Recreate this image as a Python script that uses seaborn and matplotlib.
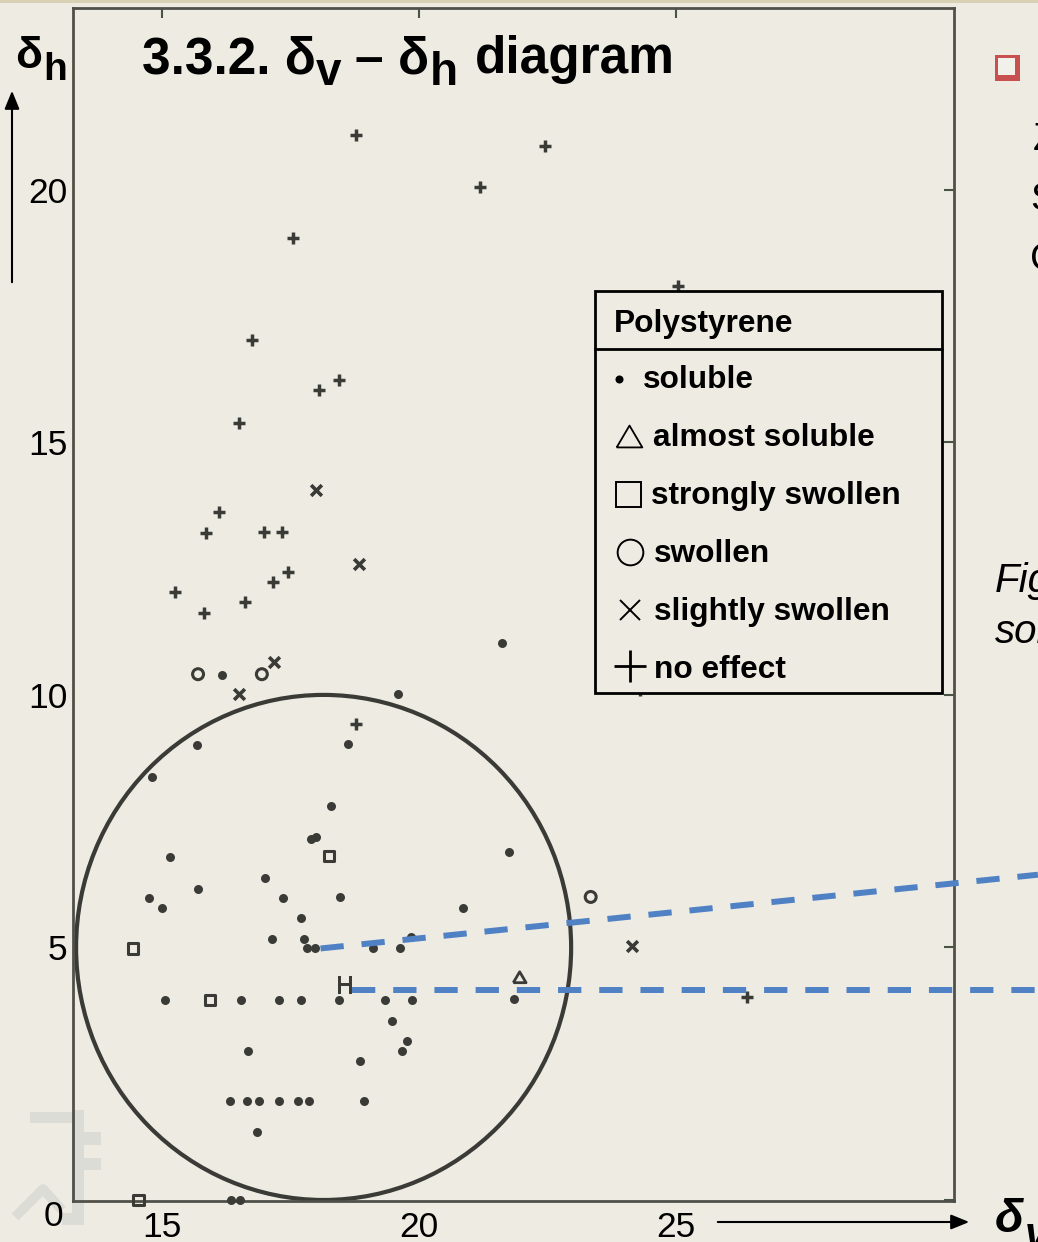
import matplotlib
matplotlib.use("Agg")
import matplotlib.pyplot as plt
import seaborn as sns
import pandas as pd
from matplotlib.patches import Ellipse, Rectangle, FancyArrowPatch
from matplotlib.lines import Line2D
from matplotlib.transforms import ScaledTranslation

# points (delta_v, delta_h)
soluble_dv = [16.17, 21.61, 19.60, 15.69, 18.63, 14.81, 18.30, 17.90, 18.01, 15.17,
              21.75, 17.02, 15.71, 14.76, 17.36, 18.46, 15.01, 20.85, 17.72, 17.15,
              17.77, 19.84, 17.82, 17.98, 19.11, 19.63, 15.06, 16.54, 17.29, 17.72,
              18.45, 19.34, 19.86, 21.85, 19.47, 19.77, 19.68, 16.68, 18.86, 16.33,
              16.67, 16.89, 17.29, 17.65, 17.86, 18.93, 16.85, 16.35, 16.52]
soluble_dh = [10.40, 11.02, 10.01, 9.00, 9.02, 8.38, 7.80, 7.15, 7.19, 6.80,
              6.88, 6.38, 6.16, 5.97, 5.97, 5.99, 5.78, 5.78, 5.58, 5.17,
              5.17, 5.20, 4.98, 4.98, 4.98, 4.98, 3.95, 3.95, 3.96, 3.95,
              3.96, 3.96, 3.95, 3.98, 3.55, 3.15, 2.94, 2.94, 2.76, 1.95,
              1.95, 1.95, 1.95, 1.95, 1.95, 1.96, 1.35, 0.0, 0.0]
almost_dv = [21.96]
almost_dh = [4.41]
strongly_dv = [18.26, 14.45, 15.94, 14.55]
strongly_dh = [6.81, 4.98, 3.96, 0.0]
swollen_dv = [15.71, 16.95, 23.34]
swollen_dh = [10.41, 10.41, 6.00]
slightly_dv = [18.01, 18.84, 17.19, 16.50, 24.15]
slightly_dh = [14.05, 12.59, 10.65, 10.01, 5.02]
noeffect_dv = [18.78, 22.45, 21.19, 17.55, 25.04, 16.75, 18.06, 18.45, 16.50, 16.12,
               15.86, 17.00, 17.35, 17.46, 17.16, 15.26, 16.62, 15.82, 18.78, 24.29, 26.37]
noeffect_dh = [21.09, 20.87, 20.06, 19.05, 18.10, 17.02, 16.04, 16.24, 15.39, 13.63,
               13.20, 13.22, 13.22, 12.44, 12.23, 12.03, 11.83, 11.62, 9.43, 10.10, 4.01]
marked_dv = [18.57]
marked_dh = [4.26]

# solubility circle and the two dashed guide lines
circle_center = (18.15, 5.0)
circle_w, circle_h = 9.62, 10.0
guide1_dv, guide1_dh = [18.09, 32.03], [4.98, 6.44]
guide2_dv, guide2_dh = [18.71, 32.03], [4.15, 4.15]

x_ticks = [15, 20, 25]
y_ticks = [0, 5, 10, 15, 20]

legend_title = "Polystyrene"
legend_labels = ["soluble", "almost soluble", "strongly swollen", "swollen",
                 "slightly swollen", "no effect"]

W, H = 1038, 1242
bg = '#EEECE2'
ink = '#3a3a36'
blue = '#4F81C4'

sns.set_style("white")
plt.rcParams['font.family'] = ['Liberation Sans', 'DejaVu Sans']
plt.rcParams['text.color'] = 'black'
plt.rcParams['mathtext.fontset'] = 'custom'
plt.rcParams['mathtext.rm'] = 'Liberation Sans'
plt.rcParams['mathtext.bf'] = 'Liberation Sans:bold'


def fx(px):
    return px / W


def fy(py):
    return 1 - py / H


def rect_px(x0, y0, x1, y1, **kw):
    return Rectangle((fx(x0), fy(y1)), (x1 - x0) / W, (y1 - y0) / H,
                     transform=fig.transFigure, **kw)


groups = [
    ('soluble', soluble_dv, soluble_dh),
    ('almost soluble', almost_dv, almost_dh),
    ('strongly swollen', strongly_dv, strongly_dh),
    ('swollen', swollen_dv, swollen_dh),
    ('slightly swollen', slightly_dv, slightly_dh),
    ('no effect', noeffect_dv, noeffect_dh),
    ('marked', marked_dv, marked_dh),
]
df = pd.concat([pd.DataFrame({'dv': xs, 'dh': ys, 'effect': name}) for name, xs, ys in groups],
               ignore_index=True)

tri = [(-1, -0.85), (1, -0.85), (0, 0.85), (-1, -0.85)]
styles = {
    'soluble': dict(marker='o', s=42, color=ink, edgecolor=ink, linewidth=0),
    'almost soluble': dict(marker=tri, s=85, facecolor='none', edgecolor=ink, linewidth=2),
    'strongly swollen': dict(marker='s', s=55, facecolor='none', edgecolor=ink, linewidth=2.2),
    'swollen': dict(marker='o', s=62, facecolor='none', edgecolor=ink, linewidth=2.2),
    'slightly swollen': dict(marker='x', s=60, color=ink, linewidth=2.6),
    'no effect': dict(marker='+', s=85, color=ink, linewidth=2.5),
    'marked': dict(marker=r'$\mathbf{H}$', s=150, color=ink, edgecolor=ink, linewidth=0),
}

fig = plt.figure(figsize=(W / 100, H / 100), dpi=100)
fig.patch.set_facecolor(bg)
ax = fig.add_axes([fx(73), fy(1201), (954 - 73) / W, (1201 - 8) / H])
ax.set_facecolor('none')

for name, g in df.groupby('effect', sort=False):
    sns.scatterplot(data=g, x='dv', y='dh', ax=ax, legend=False, clip_on=False,
                    zorder=3, **styles[name])

ax.add_patch(Ellipse(circle_center, circle_w, circle_h, fill=False, lw=3, ec=ink, zorder=2))

for gx, gy in [(guide1_dv, guide1_dh), (guide2_dv, guide2_dh)]:
    ax.plot(gx, gy, color=blue, lw=4.3, dashes=(3.9, 3.0), clip_on=False,
            solid_capstyle='butt', dash_capstyle='butt', zorder=4)

ax.set_xlim(13.28, 30.40)
ax.set_ylim(-0.02, 23.6)
ax.set_xticks(x_ticks)
ax.set_yticks(y_ticks)
ax.set_xlabel('')
ax.set_ylabel('')
for sp in ax.spines.values():
    sp.set_color('#50504a')
    sp.set_linewidth(2)
ax.tick_params(direction='in', length=7, width=1.5, color='#4a5444',
               top=True, right=True, labelcolor='black', labelsize=25.5)
ax.tick_params(axis='x', pad=7)
ax.tick_params(axis='y', pad=4)
zero = ax.get_yticklabels()[0]
zero.set_transform(zero.get_transform() + ScaledTranslation(-0.04, -0.13, fig.dpi_scale_trans))

# legend box drawn as in the slide
fig.add_artist(rect_px(595, 291, 942, 693, fc=bg, ec='black', lw=2, zorder=5))
fig.add_artist(Line2D([fx(595), fx(942)], [fy(349), fy(349)], color='black', lw=2,
                      transform=fig.transFigure, zorder=6))
fig.text(fx(614), fy(331.5), legend_title, fontsize=22.8, weight='bold', va='baseline', zorder=6)
baselines = [388, 446.5, 504, 562, 620, 677.5]
text_x = [643, 653, 651, 654, 654, 654]
sym_y = [379, 435.5, 494, 552, 609.5, 666.3]
sym_style = [
    dict(marker='o', ms=5.8, mfc='black', mec='black', mew=0),
    dict(marker=tri, ms=18.5, mfc='none', mec='black', mew=1.3),
    dict(marker='s', ms=18, mfc='none', mec='black', mew=1.4),
    dict(marker='o', ms=18.5, mfc='none', mec='black', mew=1.4),
    dict(marker='x', ms=15, mec='black', mew=1.4),
    dict(marker='+', ms=23, mec='black', mew=2),
]
sym_x = [619, 628.5, 628, 629.5, 629.5, 629.5]
for lab, bx, by, sx, sy, st in zip(legend_labels, text_x, baselines, sym_x, sym_y, sym_style):
    fig.text(fx(bx), fy(by), lab, fontsize=22.8, weight='bold', va='baseline', zorder=6)
    fig.add_artist(Line2D([fx(sx)], [fy(sy)], transform=fig.transFigure, ls='none',
                          zorder=6, **st))

# titles / labels with near full-size subscripts
renderer = fig.canvas.get_renderer()


def run_text(x_px, base_px, pieces, **kw):
    x = x_px
    for s, size, drop, gap in pieces:
        x += gap
        t = fig.text(x / W, fy(base_px + drop), s, fontsize=size, va='baseline', ha='left', **kw)
        x = t.get_window_extent(renderer).x1


run_text(142, 73, [("3.3.2. δ", 37, 0, 0), ("v", 33, 12, 0), ("–", 37, 0, 13),
                   ("δ", 37, 0, 15), ("h", 33, 12, 1), ("diagram", 37, 0, 17)], weight='bold')
run_text(15, 68, [("δ", 32, 0, 0), ("h", 28, 12, 1)], weight='bold')
run_text(995, 1232, [("δ", 34, 0, 0), ("v", 30, 15, 1)], weight='bold', style='italic')

fig.add_artist(FancyArrowPatch((fx(12), fy(285)), (fx(12), fy(88)), transform=fig.transFigure,
                               arrowstyle='-|>,head_length=1.1,head_width=0.45',
                               mutation_scale=10, color='black', lw=1.5))
fig.add_artist(FancyArrowPatch((fx(715), fy(1222)), (fx(972), fy(1222)), transform=fig.transFigure,
                               arrowstyle='-|>,head_length=1.1,head_width=0.45',
                               mutation_scale=10, color='black', lw=1.5))

# cut-off slide text on the right
fig.add_artist(rect_px(995, 55, 1020, 81, fc='#C8504F', ec='none'))
fig.add_artist(rect_px(998, 58, 1015, 75, fc='#F2F0EA', ec='none'))
fig.text(fx(1033), fy(150), "Z", fontsize=28, va='baseline')
fig.text(fx(1030), fy(210), "S", fontsize=28, va='baseline')
fig.text(fx(1030), fy(270), "C", fontsize=28, va='baseline')
fig.text(fx(995), fy(592), "Figure", fontsize=29, style='italic', va='baseline')
fig.text(fx(995), fy(643), "solubility", fontsize=29, style='italic', va='baseline')

# faint logo and top strip of the slide
wm = '#DCDCD7'
for box in [(30, 1112, 72, 1123), (72, 1110, 84, 1225), (84, 1132, 101, 1145),
            (84, 1158, 101, 1170), (62, 1213, 84, 1225)]:
    fig.add_artist(rect_px(*box, fc=wm, ec='none', zorder=-1))
fig.add_artist(Line2D([fx(15), fx(43), fx(62)], [fy(1217), fy(1189), fy(1210)], color=wm,
                      lw=7, transform=fig.transFigure, zorder=-1, solid_capstyle='butt'))
fig.add_artist(rect_px(0, 0, W, 3, fc='#D8D1B4', ec='none'))

fig.savefig('out.png', dpi=100, facecolor=bg)
